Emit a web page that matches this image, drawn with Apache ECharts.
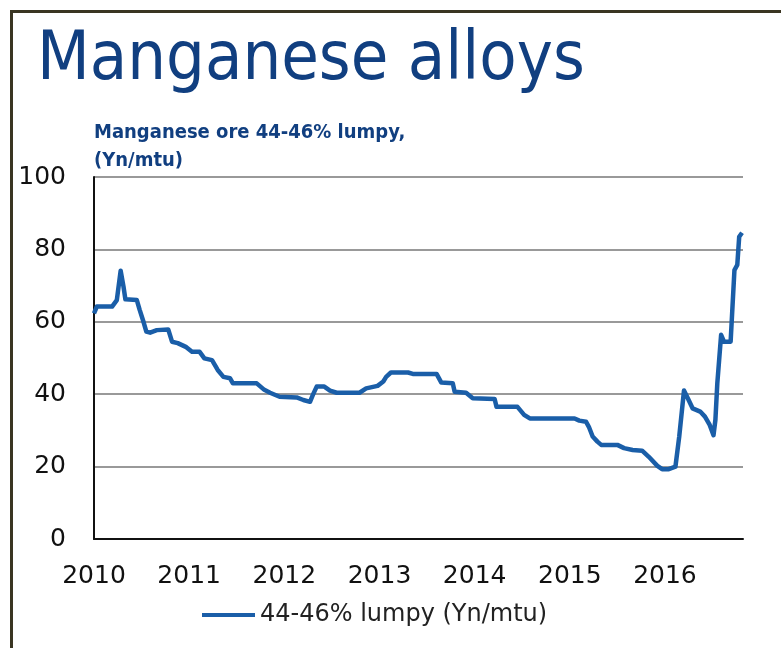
<!DOCTYPE html>
<html>
<head>
<meta charset="utf-8">
<script src="https://cdn.jsdelivr.net/npm/echarts@6/dist/echarts.min.js"></script>
<style>
  html, body { margin: 0; padding: 0; background: #fff; }
  #frame { position: absolute; left: 10px; top: 10px; width: 771px; height: 638px;
           border-top: 3px solid #3a3522; border-left: 3px solid #3a3522; }
  #chart { position: absolute; left: 0; top: 0; width: 781px; height: 648px; }
</style>
</head>
<body>
<div id="frame"></div>
<div id="chart"></div>
<script>
// price history, decimal year -> Yn/mtu
const years = [
  2010.00, 2010.03, 2010.19, 2010.24, 2010.28, 2010.31, 2010.33, 2010.45, 2010.48, 2010.52,
  2010.55, 2010.59, 2010.66, 2010.78, 2010.82, 2010.88, 2010.97, 2011.03, 2011.11, 2011.16,
  2011.24, 2011.30, 2011.36, 2011.43, 2011.46, 2011.71, 2011.79, 2011.85, 2011.95, 2012.13,
  2012.20, 2012.27, 2012.30, 2012.34, 2012.42, 2012.48, 2012.55, 2012.79, 2012.86, 2012.98,
  2013.04, 2013.07, 2013.12, 2013.30, 2013.35, 2013.60, 2013.65, 2013.77, 2013.79, 2013.91,
  2013.98, 2014.21, 2014.23, 2014.45, 2014.52, 2014.58, 2015.05, 2015.10, 2015.17, 2015.20,
  2015.24, 2015.29, 2015.33, 2015.50, 2015.57, 2015.66, 2015.76, 2015.83, 2015.92, 2015.97,
  2016.04, 2016.11, 2016.15, 2016.20, 2016.24, 2016.29, 2016.37, 2016.42, 2016.47, 2016.51,
  2016.53, 2016.55, 2016.59, 2016.62, 2016.69, 2016.73, 2016.76, 2016.78, 2016.81
]
const prices = [
  62.3, 64.2, 64.2, 66.0, 74.1, 69.7, 66.2, 66.0, 63.3, 60.0,
  57.3, 57.0, 57.7, 57.9, 54.5, 54.1, 53.0, 51.7, 51.7, 49.9,
  49.4, 46.7, 44.8, 44.4, 43.0, 43.0, 41.2, 40.4, 39.3, 39.1,
  38.4, 37.9, 39.8, 42.1, 42.1, 41.0, 40.4, 40.4, 41.6, 42.3,
  43.5, 44.8, 46.0, 46.0, 45.6, 45.6, 43.2, 43.0, 40.7, 40.4,
  38.9, 38.7, 36.5, 36.5, 34.3, 33.3, 33.3, 32.7, 32.4, 31.0,
  28.3, 26.9, 26.0, 26.0, 25.1, 24.6, 24.4, 22.7, 20.2, 19.3,
  19.3, 20.0, 28.3, 41.0, 38.9, 36.1, 35.2, 33.8, 31.5, 28.7,
  32.9, 43.0, 56.4, 54.5, 54.5, 74.3, 75.7, 83.5, 84.6
]
const yTicks = [0, 20, 40, 60, 80, 100]
const seriesName = '44-46% lumpy (Yn/mtu)'

const chart = echarts.init(document.getElementById('chart'))
chart.setOption({
  backgroundColor: 'transparent',
  title: [
    {
      text: 'Manganese alloys',
      left: 32,
      top: 22,
      textStyle: { fontFamily: 'DejaVu Sans Condensed, DejaVu Sans', fontSize: 68, fontWeight: 'normal', color: '#113f80' }
    },
    {
      text: 'Manganese ore 44-46% lumpy,\n(Yn/mtu)',
      left: 89,
      top: 114,
      textStyle: { fontFamily: 'DejaVu Sans Condensed, DejaVu Sans', fontSize: 20, fontWeight: 'bold', lineHeight: 28, color: '#113f80' }
    }
  ],
  legend: {
    data: [{ name: seriesName, icon: 'rect' }],
    left: 197,
    top: 598,
    itemWidth: 53,
    itemHeight: 4,
    textStyle: { fontFamily: 'DejaVu Sans', fontSize: 24, color: '#222' }
  },
  grid: { left: 94, right: 38, top: 177, bottom: 109 },
  xAxis: {
    type: 'value',
    min: 2010,
    max: 2016.82,
    interval: 1,
    axisLine: { lineStyle: { color: '#111', width: 2 } },
    axisTick: { show: false },
    splitLine: { show: false },
    axisLabel: {
      margin: 25,
      fontFamily: 'DejaVu Sans',
      fontSize: 25,
      color: '#111',
      showMaxLabel: false,
      formatter: v => Number.isInteger(v) ? String(v) : ''
    }
  },
  yAxis: {
    type: 'value',
    min: yTicks[0],
    max: yTicks[yTicks.length - 1],
    interval: 20,
    axisLine: { show: true, lineStyle: { color: '#111', width: 2 } },
    axisTick: { show: false },
    splitLine: { lineStyle: { color: '#999', width: 2 } },
    axisLabel: { margin: 28, fontFamily: 'DejaVu Sans', fontSize: 25, color: '#111' }
  },
  series: [
    {
      name: seriesName,
      type: 'line',
      symbol: 'none',
      data: years.map((y, i) => [y, prices[i]]),
      lineStyle: { color: '#1a5ea8', width: 4.5, join: 'round' },
      itemStyle: { color: '#1a5ea8' }
    }
  ]
})
</script>
</body>
</html>
